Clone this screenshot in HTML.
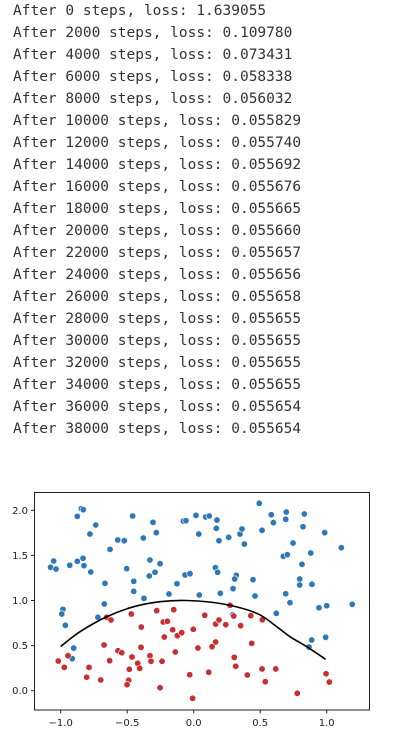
<!DOCTYPE html>
<html><head><meta charset="utf-8"><style>
body{margin:0;background:#fff;width:400px;height:746px;overflow:hidden;position:relative}
#log{position:absolute;left:13px;top:-0.5px;margin:0;font-family:"DejaVu Sans Mono","Liberation Mono",monospace;font-size:14.5px;line-height:22px;color:#333;white-space:pre}
#chart{position:absolute;left:0;top:0}
</style></head><body>
<pre id="log">After 0 steps, loss: 1.639055
After 2000 steps, loss: 0.109780
After 4000 steps, loss: 0.073431
After 6000 steps, loss: 0.058338
After 8000 steps, loss: 0.056032
After 10000 steps, loss: 0.055829
After 12000 steps, loss: 0.055740
After 14000 steps, loss: 0.055692
After 16000 steps, loss: 0.055676
After 18000 steps, loss: 0.055665
After 20000 steps, loss: 0.055660
After 22000 steps, loss: 0.055657
After 24000 steps, loss: 0.055656
After 26000 steps, loss: 0.055658
After 28000 steps, loss: 0.055655
After 30000 steps, loss: 0.055655
After 32000 steps, loss: 0.055655
After 34000 steps, loss: 0.055655
After 36000 steps, loss: 0.055654
After 38000 steps, loss: 0.055654</pre>
<svg id="chart" width="400" height="746"></svg>
<script>
const blueX=[-1.076,-1.053,-1.035,-0.932,-0.875,-0.832,-0.825,-0.774,-0.875,-0.845,-0.830,-0.780,-0.737,-0.629,-0.571,-0.522,-0.504,-0.459,-0.451,-0.451,-0.374,-0.379,-0.329,-0.334,-0.306,-0.291,-0.281,-0.253,-0.667,-0.672,-0.186,-0.126,-0.065,-0.028,-0.078,-0.058,0.017,0.038,0.042,-0.983,0.090,0.117,0.175,0.170,0.190,0.263,0.348,0.363,0.381,0.493,0.583,0.599,0.514,0.696,0.692,0.832,0.822,0.985,0.747,0.880,0.674,0.704,1.110,0.814,0.163,0.180,0.320,0.308,0.446,0.296,0.200,0.461,0.797,0.797,0.889,0.692,0.724,0.942,1.0,1.192,0.293,0.621,0.887,0.867,0.992,-0.992,-0.965,-0.902,-0.913,-0.720];
const blueY=[1.368,1.438,1.349,1.390,1.434,1.468,1.386,1.316,1.933,2.018,2.007,1.737,1.837,1.567,1.671,1.663,1.353,1.937,1.213,1.102,1.024,1.693,1.449,1.272,1.867,1.313,1.752,1.408,1.191,0.961,1.072,1.186,1.283,1.297,1.881,1.885,1.944,1.737,1.061,0.902,1.926,1.937,1.892,1.800,1.663,1.700,1.737,1.793,1.626,2.078,1.951,1.863,1.778,1.981,1.900,1.959,1.818,1.752,1.637,1.527,1.490,1.508,1.585,1.401,1.364,1.313,1.279,1.238,1.231,1.131,1.080,1.050,1.238,1.172,1.180,1.075,0.976,0.920,0.942,0.958,0.843,0.858,0.562,0.484,0.592,0.850,0.725,0.473,0.355,0.814];
const redX=[-1.018,-0.973,-0.945,-0.805,-0.787,-0.699,-0.674,-0.654,-0.622,-0.632,-0.569,-0.541,-0.469,-0.484,-0.489,-0.501,-0.464,-0.394,-0.421,-0.406,-0.396,-0.329,-0.321,-0.278,-0.253,-0.238,-0.229,-0.198,-0.221,-0.158,-0.150,-0.138,-0.123,-0.090,-0.030,-0.003,-0.008,0.032,0.273,0.083,0.165,0.190,0.241,0.165,0.138,0.301,0.353,0.429,0.516,0.436,0.305,0.316,0.113,0.403,0.514,0.617,0.538,0.779,0.995,1.020];
const redY=[0.329,0.259,0.388,0.149,0.259,0.119,0.507,0.814,0.784,0.333,0.443,0.421,0.850,0.237,0.115,0.067,0.374,0.706,0.304,0.248,0.481,0.388,0.326,0.887,0.033,0.326,0.762,0.769,0.595,0.676,0.898,0.429,0.610,0.643,0.177,0.681,-0.084,0.473,0.947,0.836,0.739,0.784,0.732,0.540,0.488,0.828,0.721,0.832,0.787,0.525,0.370,0.271,0.204,0.174,0.241,0.241,0.100,-0.029,0.188,0.096];
const curveX=[-1.0,-0.855,-0.654,-0.454,-0.253,-0.05,0.223,0.474,0.624,0.724,0.850,0.992];
const curveY=[0.49,0.654,0.82,0.93,0.987,1.0,0.961,0.858,0.710,0.599,0.488,0.348];
const xTicks=[-1.0,-0.5,0.0,0.5,1.0];
const xTickLabels=["\u22121.0","\u22120.5","0.0","0.5","1.0"];
const yTicks=[0.0,0.5,1.0,1.5,2.0];
const yTickLabels=["0.0","0.5","1.0","1.5","2.0"];
const NS="http://www.w3.org/2000/svg";
const svg=document.getElementById('chart');
const sx=v=>193.7+133*v;
const sy=v=>690.7-90.2*v;
function mk(t,a){const e=document.createElementNS(NS,t);for(const k in a)e.setAttribute(k,a[k]);svg.appendChild(e);return e;}
const frame=mk('rect',{x:34.5,y:492.5,width:335,height:217.5,fill:'none',stroke:'#222','stroke-width':1});


xTicks.forEach((v,i)=>{
  const t=mk('line',{x1:sx(v),x2:sx(v),y1:710,y2:713.5,stroke:'#222'});
  
  
  const l=mk('text',{x:sx(v),y:726,'text-anchor':'middle','font-family':'DejaVu Sans, sans-serif','font-size':'10px',fill:'#222'});
  l.textContent=xTickLabels[i];
  
  
});
yTicks.forEach((v,i)=>{
  const t=mk('line',{x1:31,x2:34.5,y1:sy(v),y2:sy(v),stroke:'#222'});
  
  
  const l=mk('text',{x:28,y:sy(v)+3.5,'text-anchor':'end','font-family':'DejaVu Sans, sans-serif','font-size':'10px',fill:'#222'});
  l.textContent=yTickLabels[i];
  
  
});
blueX.forEach((v,i)=>{
  const c=mk('circle',{cx:sx(v),cy:sy(blueY[i]),r:3.2,fill:'#2f78b8',stroke:'#fff','stroke-width':0.6});
  
  
});
redX.forEach((v,i)=>{
  const c=mk('circle',{cx:sx(v),cy:sy(redY[i]),r:3.2,fill:'#c8302f',stroke:'#fff','stroke-width':0.6});
  
  
});
let d='';
const n=curveX.length;
const P=curveX.map((v,i)=>[sx(v),sy(curveY[i])]);
d='M'+P[0][0]+' '+P[0][1];
for(let i=0;i<n-1;i++){
  const p0=P[Math.max(0,i-1)],p1=P[i],p2=P[i+1],p3=P[Math.min(n-1,i+2)];
  const c1=[p1[0]+(p2[0]-p0[0])/6,p1[1]+(p2[1]-p0[1])/6];
  const c2=[p2[0]-(p3[0]-p1[0])/6,p2[1]-(p3[1]-p1[1])/6];
  d+=' C'+c1[0]+' '+c1[1]+' '+c2[0]+' '+c2[1]+' '+p2[0]+' '+p2[1];
}
const path=mk('path',{d:d,fill:'none',stroke:'#000','stroke-width':1.6});


</script>
</body></html>
